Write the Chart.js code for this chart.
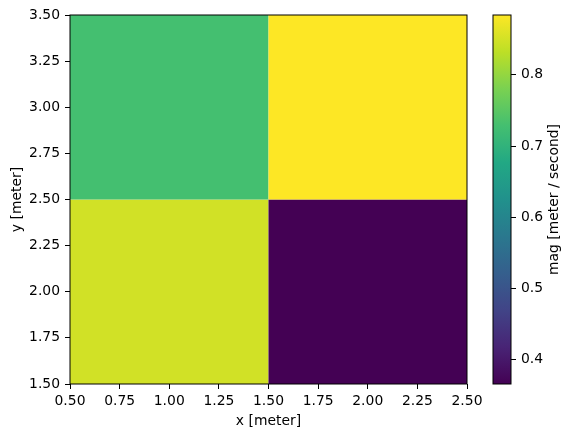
<!DOCTYPE html>
<html>
<head>
<meta charset="utf-8">
<script src="https://cdn.jsdelivr.net/npm/chart.js@4/dist/chart.umd.min.js"></script>
<style>
  body { margin: 0; background: #fff; }
  #wrap { position: relative; width: 571px; height: 438px; }
  #wrap canvas { position: absolute; left: 0; top: 0; }
</style>
</head>
<body>
<div id="wrap">
  <canvas id="main-chart" width="571" height="438"></canvas>
  <canvas id="cbar-chart" width="571" height="438"></canvas>
</div>
<script>
// ====== DATA ======
const xEdges = [0.5, 1.5, 2.5];
const yEdges = [1.5, 2.5, 3.5];
// rows go from bottom (y 1.5-2.5) to top (y 2.5-3.5)
const magRowBottom = [0.848, 0.366];
const magRowTop = [0.729, 0.884];
const xTicks = [0.5, 0.75, 1.0, 1.25, 1.5, 1.75, 2.0, 2.25, 2.5];
const yTicks = [1.5, 1.75, 2.0, 2.25, 2.5, 2.75, 3.0, 3.25, 3.5];
const cbarTicks = [0.4, 0.5, 0.6, 0.7, 0.8];

const magRows = [magRowBottom, magRowTop];
const vMin = Math.min(...magRows.flat());
const vMax = Math.max(...magRows.flat());

// ====== VIRIDIS ======
const viridisStops = [
  [68, 1, 84], [72, 36, 117], [65, 68, 135], [53, 95, 141], [42, 120, 142],
  [33, 145, 140], [34, 168, 132], [68, 191, 112], [122, 209, 81], [189, 223, 38], [253, 231, 37]
];
function viridis(t) {
  t = Math.max(0, Math.min(1, t));
  const i = Math.min(9, Math.floor(t * 10));
  const f = t * 10 - i;
  const a = viridisStops[i], b = viridisStops[i + 1];
  const c = a.map((v, k) => Math.round(v + (b[k] - v) * f));
  return `rgb(${c[0]},${c[1]},${c[2]})`;
}

const font = { family: "'DejaVu Sans', sans-serif", size: 13.9 };
const tickGrid = { drawOnChartArea: false, drawTicks: true, tickLength: 5, color: "#000", lineWidth: 1 };

// ====== MAIN PLOT ======
const meshPlugin = {
  id: "mesh",
  beforeDatasetsDraw(chart) {
    const { ctx, scales: { x, y } } = chart;
    ctx.save();
    magRows.forEach((row, j) => {
      row.forEach((val, i) => {
        const x0 = x.getPixelForValue(xEdges[i]);
        const x1 = x.getPixelForValue(xEdges[i + 1]);
        const y0 = y.getPixelForValue(yEdges[j + 1]);
        const y1 = y.getPixelForValue(yEdges[j]);
        ctx.fillStyle = viridis((val - vMin) / (vMax - vMin));
        ctx.fillRect(x0, y0, x1 - x0, y1 - y0);
      });
    });
    ctx.restore();
  },
  afterDraw(chart) {
    const { ctx, chartArea: a } = chart;
    ctx.save();
    ctx.strokeStyle = "#000";
    ctx.lineWidth = 1;
    ctx.strokeRect(a.left, a.top, a.right - a.left, a.bottom - a.top);
    ctx.restore();
  }
};

new Chart(document.getElementById("main-chart"), {
  type: "scatter",
  data: { datasets: [] },
  plugins: [meshPlugin],
  options: {
    responsive: false,
    animation: false,
    layout: { padding: { left: 0, right: 104, top: 15, bottom: 0 } },
    plugins: { legend: { display: false }, tooltip: { enabled: false } },
    scales: {
      x: {
        type: "linear", min: xEdges[0], max: xEdges[xEdges.length - 1],
        afterBuildTicks: s => { s.ticks = xTicks.map(v => ({ value: v })); },
        afterFit: s => { s.height = 54; },
        ticks: { color: "#000", font, padding: 4, maxRotation: 0, callback: v => v.toFixed(2) },
        grid: tickGrid,
        border: { display: false },
        title: { display: true, text: "x [meter]", color: "#000", font, padding: { top: 0, bottom: 8 } }
      },
      y: {
        type: "linear", min: yEdges[0], max: yEdges[yEdges.length - 1],
        afterBuildTicks: s => { s.ticks = yTicks.map(v => ({ value: v })); },
        afterFit: s => { s.width = 70; },
        ticks: { color: "#000", font, padding: 5, callback: v => v.toFixed(2) },
        grid: tickGrid,
        border: { display: false },
        title: { display: true, text: "y [meter]", color: "#000", font, padding: { top: 9, bottom: 0 } }
      }
    }
  }
});

// ====== COLORBAR ======
const cbarPlugin = {
  id: "cbar",
  beforeDatasetsDraw(chart) {
    const { ctx, chartArea: a, scales: { y } } = chart;
    const yBot = y.getPixelForValue(vMin);
    const yTop = y.getPixelForValue(vMax);
    const grad = ctx.createLinearGradient(0, yBot, 0, yTop);
    viridisStops.forEach((c, k) => grad.addColorStop(k / 10, `rgb(${c[0]},${c[1]},${c[2]})`));
    ctx.save();
    ctx.fillStyle = grad;
    ctx.fillRect(a.left, yTop, a.right - a.left, yBot - yTop);
    ctx.restore();
  },
  afterDraw(chart) {
    const { ctx, chartArea: a } = chart;
    ctx.save();
    ctx.strokeStyle = "#000";
    ctx.lineWidth = 1;
    ctx.strokeRect(a.left, a.top, a.right - a.left, a.bottom - a.top);
    // colorbar label, reading bottom to top
    ctx.translate(554, (a.top + a.bottom) / 2);
    ctx.rotate(-Math.PI / 2);
    ctx.fillStyle = "#000";
    ctx.font = `${font.size}px ${font.family}`;
    ctx.textAlign = "center";
    ctx.textBaseline = "middle";
    ctx.fillText("mag [meter / second]", 0, 0);
    ctx.restore();
  }
};

new Chart(document.getElementById("cbar-chart"), {
  type: "scatter",
  data: { datasets: [] },
  plugins: [cbarPlugin],
  options: {
    responsive: false,
    animation: false,
    layout: { padding: { left: 493, right: 0, top: 15, bottom: 54 } },
    plugins: { legend: { display: false }, tooltip: { enabled: false } },
    scales: {
      x: { type: "linear", display: false, min: 0, max: 1 },
      y: {
        type: "linear", position: "right", min: vMin, max: vMax,
        afterBuildTicks: s => { s.ticks = cbarTicks.map(v => ({ value: v })); },
        afterFit: s => { s.width = 60; },
        ticks: { color: "#000", font, padding: 5, callback: v => v.toFixed(1) },
        grid: tickGrid,
        border: { display: false }
      }
    }
  }
});
</script>
</body>
</html>
